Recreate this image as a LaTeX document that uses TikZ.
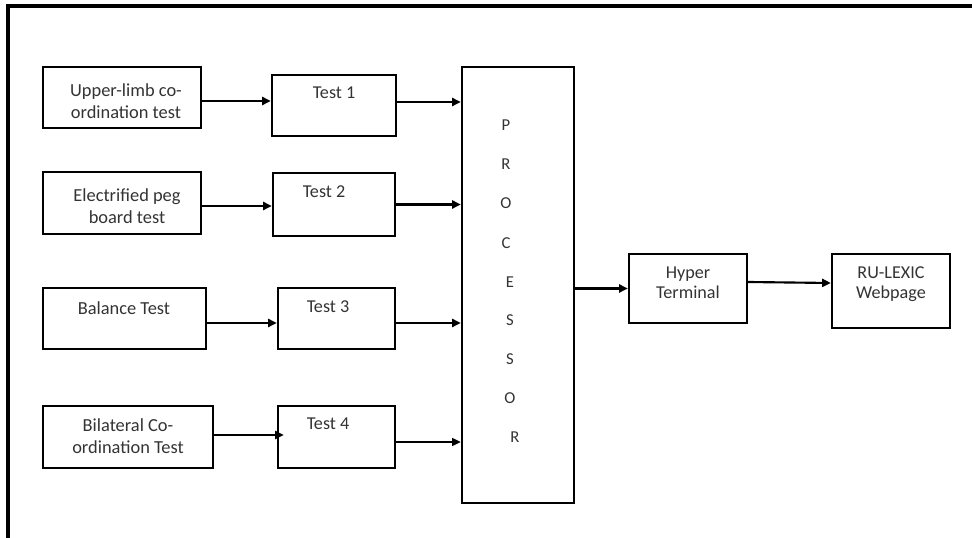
\documentclass[tikz,border=0pt]{standalone}
\usepackage{fontspec}
\setmainfont{Carlito}
\usetikzlibrary{calc,arrows.meta}
\definecolor{ink}{HTML}{333333}
\tikzset{
  blk/.style={draw=black, line width=1.8pt, inner sep=0pt},
  srcfont/.style={font=\fontsize{13.8}{16.5}\selectfont, text=ink, align=center, inner sep=0pt},
  tstfont/.style={font=\fontsize{13.6}{15}\selectfont, text=ink, align=center, inner sep=0pt},
  outfont/.style={font=\fontsize{13.6}{15}\selectfont, text=ink, align=center, inner sep=0pt},
  letter/.style={font=\fontsize{12.5}{13}\selectfont, text=ink, inner sep=0pt},
  arr/.style={line width=1.6pt, -{Triangle[length=6.5pt,width=6pt]}},
  thinarr/.style={line width=0.9pt, -{Triangle[length=6.5pt,width=6pt]}},
  frameline/.style={line width=2.3pt, line cap=rect}
}
\begin{document}
\begin{tikzpicture}[x=0.75pt, y=-0.75pt]
\useasboundingbox (0,0) rectangle (972,538);

% outer frame: top and left edges only
\coordinate (fTL) at (8,6);
\coordinate (fTR) at (975,6);
\coordinate (fBL) at (8,541);
\draw[frameline] (fTR) -- (fTL) -- (fBL);

% source test boxes
\node[blk, minimum width=158*0.75pt, minimum height=61*0.75pt] (A1) at (122,97.5) {};
\node[blk, minimum width=158*0.75pt, minimum height=62*0.75pt] (A2) at (122,203) {};
\node[blk, minimum width=163*0.75pt, minimum height=61*0.75pt] (A3) at (124.5,318.5) {};
\node[blk, minimum width=170*0.75pt, minimum height=62*0.75pt] (A4) at (128,437) {};

\node[srcfont] (A1t) at (126,101) {Upper-limb co-\\ordination test};
\node[srcfont] (A2t) at (127,206) {Electrified peg\\board test};
\node[srcfont] (A3t) at (124,308) {Balance Test};
\node[srcfont] (A4t) at (128,436) {Bilateral Co-\\ordination Test};

% test boxes
\node[blk, minimum width=124*0.75pt, minimum height=61*0.75pt] (T1) at (334,105.5) {};
\node[blk, minimum width=122*0.75pt, minimum height=63*0.75pt] (T2) at (334,204.5) {};
\node[blk, minimum width=117*0.75pt, minimum height=61*0.75pt] (T3) at (336.5,318.5) {};
\node[blk, minimum width=117*0.75pt, minimum height=62*0.75pt] (T4) at (336.5,437) {};

\node[tstfont] (T1t) at (334,93) {Test 1};
\node[tstfont] (T2t) at (324,192) {Test 2};
\node[tstfont] (T3t) at (328,307) {Test 3};
\node[tstfont] (T4t) at (328,424) {Test 4};

% processor
\node[blk, minimum width=112*0.75pt, minimum height=436*0.75pt] (P) at (518,285) {};
\foreach \ch/\xx/\yy [count=\i] in {P/506/125, R/506/164, O/506/203, C/506/243, E/510/282, S/510/320, S/510/359, O/510/398, R/515/437}
  \node[letter] (L\i) at (\xx,\yy) {\ch};

% output boxes
\node[blk, minimum width=118*0.75pt, minimum height=69*0.75pt] (H) at (688,288.5) {};
\node[blk, minimum width=118*0.75pt, minimum height=74*0.75pt] (R) at (891,291) {};
\node[outfont] (Ht) at (688,283) {Hyper\\Terminal};
\node[outfont] (Rt) at (891,284) {RU-LEXIC\\Webpage};

% connector start points on the box edges
\coordinate (a1o) at ($(A1.east)+(0,3.5)$);
\coordinate (a2o) at ($(A2.east)+(0,3)$);
\coordinate (a3o) at ($(A3.east)+(0,4.5)$);
\coordinate (a4o) at ($(A4.east)+(0,-2)$);
\coordinate (t4in) at ($(T4.west)+(7,0)$);
\coordinate (t1o) at ($(T1.east)+(0,-3.5)$);
\coordinate (t3o) at ($(T3.east)+(0,4.5)$);
\coordinate (t4o) at ($(T4.east)+(0,5)$);
\coordinate (ho) at ($(H.east)+(0,-6.5)$);
\coordinate (ri) at ($(R.west)+(0,-8)$);

% connectors: sources to tests
\draw[arr] (a1o) -- (a1o -| T1.west);
\draw[arr] (a2o) -- (a2o -| T2.west);
\draw[arr] (a3o) -- (a3o -| T3.west);
\draw[arr] (a4o) -- (a4o -| t4in);

% connectors: tests to processor
\draw[arr] (t1o) -- (t1o -| P.west);
\draw[arr] (T2.east) -- (T2.east -| P.west);
\draw[arr] (t3o) -- (t3o -| P.west);
\draw[thinarr] (t4o) -- (t4o -| P.west);

% processor to outputs
\draw[arr] (P.east |- H.west) -- (H.west);
\draw[arr] (ho) -- (ri);
\end{tikzpicture}
\end{document}
